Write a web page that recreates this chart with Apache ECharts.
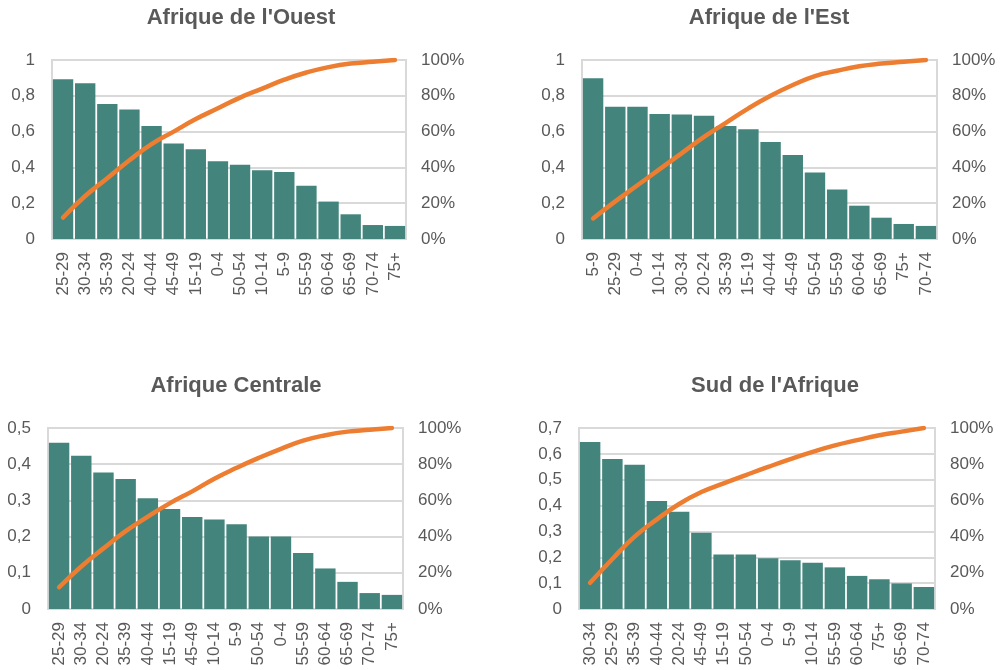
<!DOCTYPE html>
<html>
<head>
<meta charset="utf-8">
<script src="https://cdn.jsdelivr.net/npm/echarts@6.0.0/dist/echarts.min.js"></script>
<style>
    html,body{margin:0;padding:0;background:#fff;}
    #main{width:1002px;height:670px;}
</style>
</head>
<body>
<div id="main"></div>
<script>
// Afrique de l'Ouest
var ouestCats=['25-29','30-34','35-39','20-24','40-44','45-49','15-19','0-4','50-54','10-14','5-9','55-59','60-64','65-69','70-74','75+'];
var ouestBars=[0.892,0.870,0.754,0.723,0.631,0.533,0.501,0.434,0.415,0.384,0.374,0.298,0.209,0.138,0.078,0.073];
var ouestCum=[12,24,34,44,53,60,67,73,79,84,89,93,96,98,99,100];
// Afrique de l'Est
var estCats=['5-9','25-29','0-4','10-14','30-34','20-24','35-39','15-19','40-44','45-49','50-54','55-59','60-64','65-69','75+','70-74'];
var estBars=[0.898,0.739,0.739,0.698,0.695,0.689,0.631,0.613,0.542,0.469,0.371,0.276,0.186,0.119,0.084,0.073];
var estCum=[11.5,21,30,39,48,57,65,73,80,86,91,94,96.5,98,99,100];
// Afrique Centrale
var centreCats=['25-29','30-34','20-24','35-39','40-44','15-19','45-49','10-14','5-9','50-54','0-4','55-59','60-64','65-69','70-74','75+'];
var centreBars=[0.459,0.423,0.377,0.359,0.306,0.276,0.254,0.247,0.234,0.200,0.200,0.155,0.112,0.075,0.044,0.039];
var centreCum=[12,23.5,33.5,43,51,58.5,65,72,78,83.5,88.5,93,96,98,99,100];
// Sud de l'Afrique
var sudCats=['30-34','25-29','35-39','40-44','20-24','45-49','15-19','50-54','0-4','5-9','10-14','55-59','60-64','75+','65-69','70-74'];
var sudBars=[0.646,0.580,0.558,0.418,0.376,0.295,0.211,0.211,0.196,0.189,0.179,0.161,0.128,0.115,0.099,0.085];
var sudCum=[14.5,27.6,40,49.5,58,64.6,69.4,74,78.5,82.8,86.8,90.4,93.3,96,98,100];

var titles=["Afrique de l'Ouest","Afrique de l'Est","Afrique Centrale","Sud de l'Afrique"];
var leftMax=[1,1,0.5,0.7];
var leftStep=[0.2,0.2,0.1,0.1];

var font='"Liberation Sans", Arial, sans-serif';
var grey='#595959';
var lineGrey='#d9d9d9';

var panels=[
    {cats:ouestCats,bars:ouestBars,cum:ouestCum,grid:[52,60,354,179],tx:241,ty:7},
    {cats:estCats,bars:estBars,cum:estCum,grid:[582,60,355,179],tx:769,ty:7},
    {cats:centreCats,bars:centreBars,cum:centreCum,grid:[48,428,355,181],tx:236,ty:375},
    {cats:sudCats,bars:sudBars,cum:sudCum,grid:[579,428,356,181],tx:775,ty:375}
];

function commaFmt(v) {
    return (Math.round(v*10)/10).toString().replace('.',',');
}

var option={title:[],grid:[],xAxis:[],yAxis:[],series:[],animation:false};

for (var i=0;i<panels.length;i++){
    var p=panels[i];
    option.title.push({
        text:titles[i],left:p.tx,top:p.ty,textAlign:'center',padding:0,
        textStyle:{fontFamily:font,fontSize:22,fontWeight:'bold',color:grey}
    });
    option.grid.push({
        left:p.grid[0],top:p.grid[1],width:p.grid[2],height:p.grid[3],
        show:true,borderColor:lineGrey,borderWidth:2,backgroundColor:'transparent'
    });
    option.xAxis.push({
        type:'category',gridIndex:i,data:p.cats,
        axisLine:{lineStyle:{color:lineGrey,width:2}},
        axisTick:{show:false},
        axisLabel:{interval:0,rotate:90,margin:13,color:grey,fontSize:17,fontFamily:font}
    });
    option.yAxis.push({
        type:'value',gridIndex:i,min:0,max:leftMax[i],interval:leftStep[i],
        axisLine:{show:false},axisTick:{show:false},
        splitLine:{lineStyle:{color:lineGrey,width:2}},
        axisLabel:{margin:17,color:grey,fontSize:17,fontFamily:font,formatter:commaFmt}
    });
    option.yAxis.push({
        type:'value',gridIndex:i,position:'right',min:0,max:100,interval:20,
        axisLine:{show:false},axisTick:{show:false},splitLine:{show:false},
        axisLabel:{margin:15,color:grey,fontSize:17,fontFamily:font,formatter:'{value}%'}
    });
    option.series.push({
        type:'bar',xAxisIndex:i,yAxisIndex:i*2,data:p.bars,
        barCategoryGap:'8%',
        itemStyle:{color:'#43857c'}
    });
    option.series.push({
        type:'line',xAxisIndex:i,yAxisIndex:i*2+1,data:p.cum,
        smooth:true,symbol:'none',
        lineStyle:{color:'#ed7d31',width:4.5,cap:'round'}
    });
}

var myChart=echarts.init(document.getElementById('main'));
myChart.setOption(option);
</script>
</body>
</html>
